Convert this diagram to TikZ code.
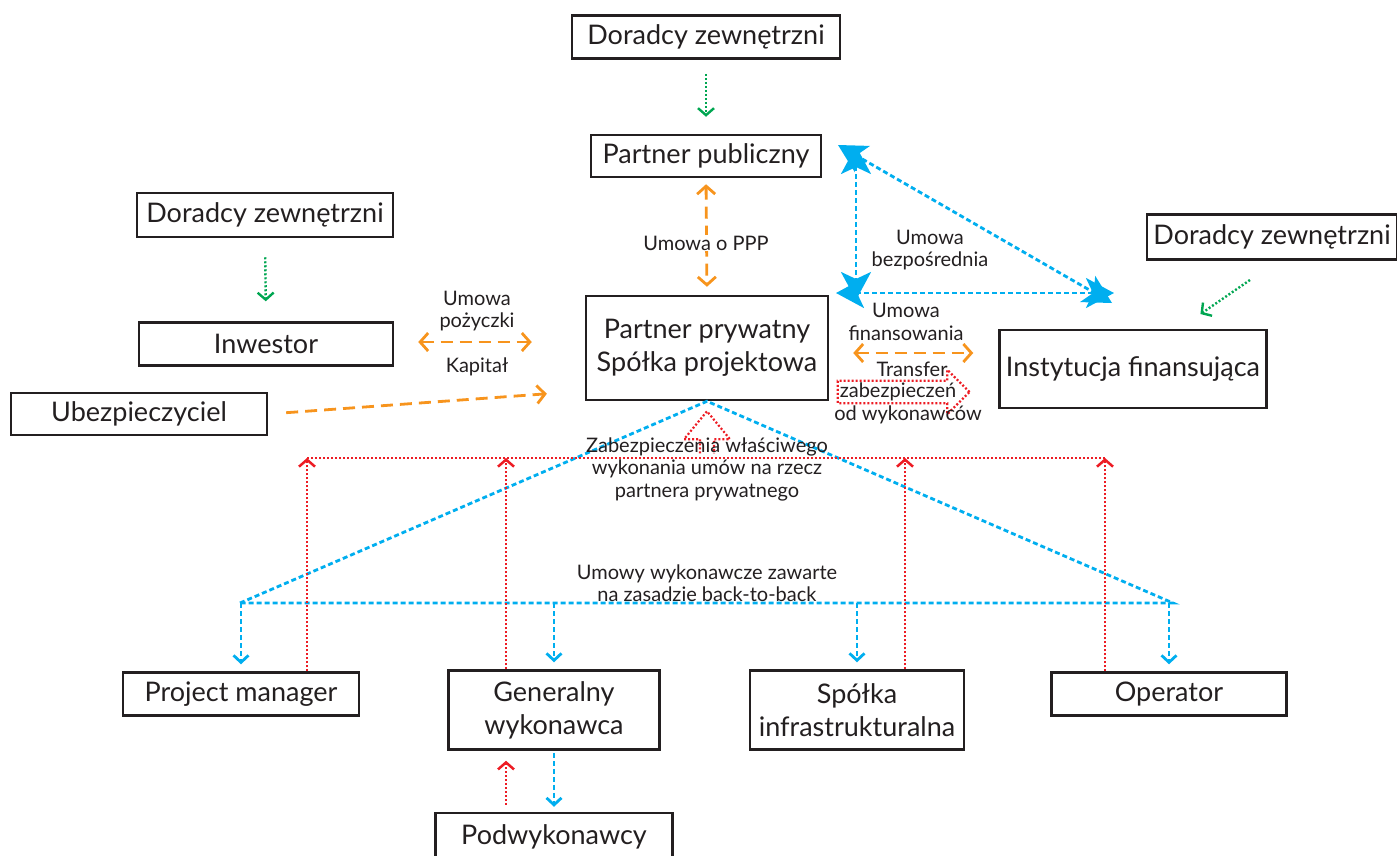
\documentclass[tikz,border=0pt]{standalone}
\usepackage{fontspec}
\setmainfont{Lato}
\usetikzlibrary{arrows.meta,shapes.arrows}
\definecolor{ppblue}{RGB}{0,174,239}
\definecolor{pporange}{RGB}{247,148,29}
\definecolor{ppgreen}{RGB}{0,166,81}
\definecolor{ppred}{RGB}{237,28,36}
\definecolor{ppframe}{RGB}{35,31,32}

\begin{document}
\begin{tikzpicture}[x=1pt, y=-1pt,
        box/.style={draw=ppframe, line width=2.5pt, align=center, inner sep=0pt, text=ppframe, font=\fontsize{27}{33}\selectfont},
        lbl/.style={align=center, inner sep=1pt, text=ppframe, font=\fontsize{20}{22.5}\selectfont},
        bluedash/.style={draw=ppblue, line width=2.8pt, dash pattern=on 5pt off 3pt},
        bluearr/.style={bluedash, -{Straight Barb[length=7pt, width=15pt]}},
        bigblue/.style={bluedash, {Stealth[length=28pt, width=30pt, inset=7pt]}-{Stealth[length=28pt, width=30pt, inset=7pt]}},
        orangearr/.style={draw=pporange, line width=2.8pt, dash pattern=on 12pt off 7pt, -{Straight Barb[length=8pt, width=18pt]}},
        orangeboth/.style={orangearr, {Straight Barb[length=8pt, width=18pt]}-{Straight Barb[length=8pt, width=18pt]}},
        redline/.style={draw=ppred, line width=2.5pt, dash pattern=on 2pt off 2pt},
        redarr/.style={redline, -{Straight Barb[length=7pt, width=16pt]}},
        redblock/.style={draw=ppred, line width=2.2pt, dash pattern=on 2pt off 2pt},
        greenarr/.style={draw=ppgreen, line width=2.4pt, dash pattern=on 2pt off 2pt, -{Straight Barb[length=7pt, width=16pt]}},
    ]
        \useasboundingbox (0,0) rectangle (1397,855);

        % Top part
        \node[box, minimum width=268pt, minimum height=43pt] (advtop) at (706,37) {Doradcy zewnętrzni};
        \node[box, minimum width=230pt, minimum height=42pt] (pub) at (706,156) {Partner publiczny};
        \node[box, minimum width=242pt, minimum height=104pt] (pp) at (707,348) {Partner prywatny\\Spółka projektowa};

        % Left side
        \node[box, minimum width=256pt, minimum height=44pt] (advleft) at (265,215) {Doradcy zewnętrzni};
        \node[box, minimum width=254pt, minimum height=43pt] (inw) at (266,344) {Inwestor};
        \node[box, minimum width=256pt, minimum height=42pt] (ube) at (139,414) {Ubezpieczyciel};

        % Right side
        \node[box, minimum width=250pt, minimum height=45pt] (advright) at (1272,237) {Doradcy zewnętrzni};
        \node[box, minimum width=267pt, minimum height=78pt] (inst) at (1133,369) {Instytucja finansująca};

        % Contractors
        \node[box, minimum width=236pt, minimum height=43pt] (pm) at (241,694) {Project manager};
        \node[box, minimum width=211pt, minimum height=79pt] (gw) at (554,710) {Generalny\\wykonawca};
        \node[box, minimum width=214pt, minimum height=79pt] (si) at (857,710) {Spółka\\infrastrukturalna};
        \node[box, minimum width=235pt, minimum height=43pt] (op) at (1169,694) {Operator};
        \node[box, minimum width=237pt, minimum height=48pt] (pod) at (554,837) {Podwykonawcy};

        % Advisers
        \draw[greenarr, shorten <=14pt, shorten >=17pt] (advtop.south) -- (pub.north);
        \draw[greenarr, shorten <=19pt, shorten >=20pt] (advleft.south) -- (inw.north);
        \draw[greenarr, shorten <=34pt, shorten >=26pt] ([xshift=6pt]advright.south) -- ([xshift=46pt]inst.north);

        % PPP contract
        \draw[orangeboth, shorten <=6pt, shorten >=8pt] (pub.south) -- (pp.north);
        \node[lbl, fill=white] (lppp) at (706,243) {Umowa o PPP};

        % Loan and capital
        \draw[orangeboth, shorten <=24pt, shorten >=53pt] ([yshift=2pt]inw.east) -- ([yshift=2pt]inw.east -| pp.west);
        \node[lbl] (lloan) at (477,311) {Umowa\\pożyczki};
        \node[lbl] (lcap) at (477,367) {Kapitał};
        \draw[orangearr, shorten <=18pt, shorten >=38pt] (ube.east) -- ([yshift=-43pt]pp.west);

        % Financing
        \draw[orangeboth, shorten <=24pt, shorten >=25pt] ([yshift=-5pt]pp.east) -- ([yshift=-5pt]pp.east -| inst.west);
        \node[lbl] (lfin) at (906,322) {Umowa\\finansowania};
        \node[lbl] (ltr) at (912,369) {Transfer};
        \node[redblock, single arrow, single arrow head extend=11pt, single arrow tip angle=90, inner xsep=1pt, inner ysep=1pt, font=\fontsize{20}{22}\selectfont, text=ppframe] (transfer) at (898,392) {zabezpieczeń};
        \node[lbl] (lwyk) at (908,415) {od wykonawców};

        % Direct agreement
        \coordinate (dpub) at (838,145);
        \coordinate (dvtop) at (856,146);
        \coordinate (dvbot) at (856,300);
        \coordinate (dpp) at (836,293);
        \coordinate (dinst) at (1114,293);
        \coordinate (dinst2) at (1112,303);
        \draw[bigblue] (dvtop) -- (dvbot);
        \draw[bigblue] (dpp) -- (dinst);
        \draw[bigblue] (dpub) -- (dinst2);
        \node[lbl] (ldir) at (930,250) {Umowa\\bezpośrednia};

        % Back-to-back contracts
        \coordinate (cl) at (240,603);
        \coordinate (cr) at (1173,603);
        \draw[bluedash] (cl) -- (pp.south) -- (cr) -- cycle;
        \foreach \n in {pm, gw, si, op}
            \draw[bluearr, shorten >=7pt] (\n.north |- cl) -- (\n.north);
        \draw[bluearr, shorten <=2pt, shorten >=5pt] (gw.south) -- (pod.north);
        \node[lbl] (lb2b) at (707,583) {Umowy wykonawcze zawarte\\na zasadzie back-to-back};

        % Performance guarantees
        \coordinate (rl) at (307,458);
        \coordinate (rr) at (1105,458);
        \draw[redline] (rl) -- (rr);
        \draw[redarr] ([xshift=66pt]pm.north) -- ([xshift=66pt]pm.north |- rl);
        \draw[redarr] ([xshift=-48pt]gw.north) -- ([xshift=-48pt]gw.north |- rl);
        \draw[redarr] ([xshift=48pt]si.north) -- ([xshift=48pt]si.north |- rl);
        \draw[redarr] ([xshift=-64pt]op.north) -- ([xshift=-64pt]op.north |- rl);
        \draw[redarr, shorten <=7pt, shorten >=10pt] ([xshift=-48pt]pod.north) -- ([xshift=-48pt]gw.south);
        \draw[redblock] ([xshift=-7pt, yshift=-52pt]pp.south) -- ++(0,-14) -- ++(-16,0) -- ([yshift=-10pt]pp.south) -- ++(23,28) -- ++(-16,0) -- ++(0,14);
        \node[lbl] (lguar) at (707,469) {Zabezpieczenia właściwego\\wykonania umów na rzecz\\partnera prywatnego};
    \end{tikzpicture}
\end{document}
